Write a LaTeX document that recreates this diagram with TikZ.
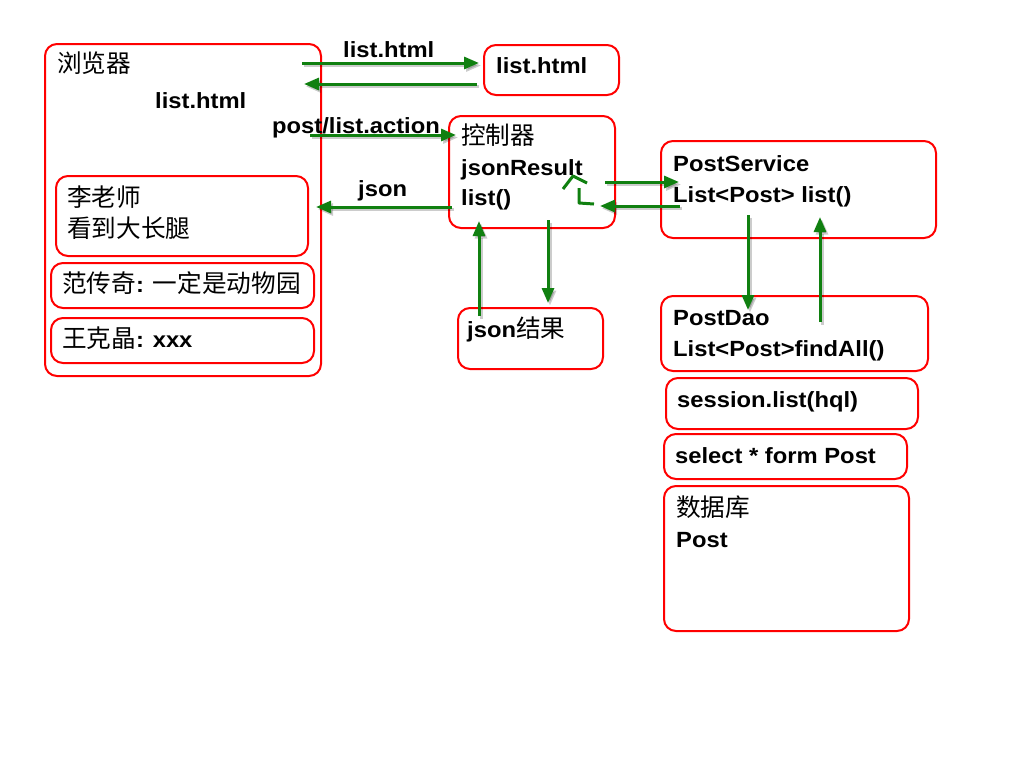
\documentclass[tikz,border=0pt]{standalone}
\usepackage{fontspec}
\setmainfont{Liberation Sans}[FakeStretch=1.08]
\newfontfamily\cjk{Noto Sans CJK SC}[Scale=1.12]
\usetikzlibrary{arrows.meta}
\definecolor{boxred}{RGB}{255,0,0}
\definecolor{arrgreen}{RGB}{16,128,16}
\tikzset{
  box/.style={draw=boxred, line width=2pt, rounded corners=12pt, anchor=north west, inner sep=0pt},
  txt/.style={anchor=base west, inner sep=0pt, font=\fontsize{22}{26}\selectfont\bfseries},
  garrow/.style={draw=arrgreen, line width=3pt, -{Triangle[length=15pt,width=12pt]},
    preaction={draw=black, opacity=0.2, line width=3pt, -{Triangle[length=15pt,width=12pt]}, transform canvas={shift={(2pt,-2.5pt)}}}},
  gline/.style={draw=arrgreen, line width=3pt}
}
\begin{document}
\begin{tikzpicture}[x=1pt,y=-1pt]
\useasboundingbox[fill=white] (0,0) rectangle (1013,782);
% boxes
\node[box, minimum width=276pt, minimum height=332pt] (browser) at (44,43) {};
\node[box, minimum width=252pt, minimum height=80pt] (li) at (55,175) {};
\node[box, minimum width=263pt, minimum height=45pt] (fan) at (50,262) {};
\node[box, minimum width=263pt, minimum height=45pt] (wang) at (50,317) {};
\node[box, minimum width=135pt, minimum height=50pt] (listbox) at (483,44) {};
\node[box, minimum width=166pt, minimum height=112pt] (ctrl) at (448,115) {};
\node[box, minimum width=275pt, minimum height=97pt] (service) at (660,140) {};
\node[box, minimum width=145pt, minimum height=61pt] (jsonres) at (457,307) {};
\node[box, minimum width=267pt, minimum height=75pt] (dao) at (660,295) {};
\node[box, minimum width=252pt, minimum height=51pt] (session) at (665,377) {};
\node[box, minimum width=243pt, minimum height=45pt] (select) at (663,433) {};
\node[box, minimum width=245pt, minimum height=145pt] (db) at (663,485) {};
% texts
\node[txt] (tbrowser) at (57,72) {\cjk\mdseries 浏览器};
\node[txt] (tbhtml) at (155,108) {list.html};
\node[txt] (tlabhtml) at (343,57) {list.html};
\node[txt] (tlistbox) at (496,73) {list.html};
\node[txt] (taction) at (272,133) {post/list.action};
\node[txt] (tctrl1) at (461,144) {\cjk\mdseries 控制器};
\node[txt] (tctrl2) at (461,175) {jsonResult};
\node[txt] (tctrl3) at (461,205) {list()};
\node[txt] (tjson) at (358,196) {json};
\node[txt] (tli1) at (67,206) {\cjk\mdseries 李老师};
\node[txt] (tli2) at (67,237) {\cjk\mdseries 看到大长腿};
\node[txt] (tfan) at (62,292) {{\cjk\mdseries 范传奇}: {\cjk\mdseries 一定是动物园}};
\node[txt] (twang) at (62,347) {{\cjk\mdseries 王克晶}: xxx};
\node[txt] (tserv1) at (673,171) {PostService};
\node[txt] (tserv2) at (673,202) {List<Post> list()};
\node[txt] (tjsonres) at (467,337) {json{\cjk\mdseries 结果}};
\node[txt] (tdao1) at (673,325) {PostDao};
\node[txt] (tdao2) at (673,356) {List<Post>findAll()};
\node[txt] (tsession) at (677,407) {session.list(hql)};
\node[txt] (tselect) at (675,463) {select * form Post};
\node[txt] (tdb1) at (676,516) {\cjk\mdseries 数据库};
\node[txt] (tdb2) at (676,547) {Post};
% arrow end points
\coordinate (a1s) at (302,63);  \coordinate (a1e) at (479,63);
\coordinate (a2s) at (477,84);  \coordinate (a2e) at (304,84);
\coordinate (a3s) at (310,135); \coordinate (a3e) at (456,135);
\coordinate (a4s) at (452,207); \coordinate (a4e) at (316,207);
\coordinate (a5s) at (605,182); \coordinate (a5e) at (679,182);
\coordinate (a6s) at (680,206); \coordinate (a6e) at (600,206);
\coordinate (a7s) at (548,220); \coordinate (a7e) at (548,303);
\coordinate (a8s) at (479,316); \coordinate (a8e) at (479,221);
\coordinate (a9s) at (748,215); \coordinate (a9e) at (748,310);
\coordinate (a10s) at (820,322); \coordinate (a10e) at (820,217);
\foreach \i in {1,...,10} { \draw[garrow] (a\i s) -- (a\i e); }
% hand-drawn marks in controller
\coordinate (m1) at (563,189); \coordinate (m2) at (573,176); \coordinate (m3) at (587,183);
\coordinate (m4) at (579,188); \coordinate (m5) at (579,203); \coordinate (m6) at (594,204);
\draw[gline, line join=round] (m1) -- (m2) -- (m3);
\draw[gline, line join=round] (m4) -- (m5) -- (m6);
\end{tikzpicture}
\end{document}
